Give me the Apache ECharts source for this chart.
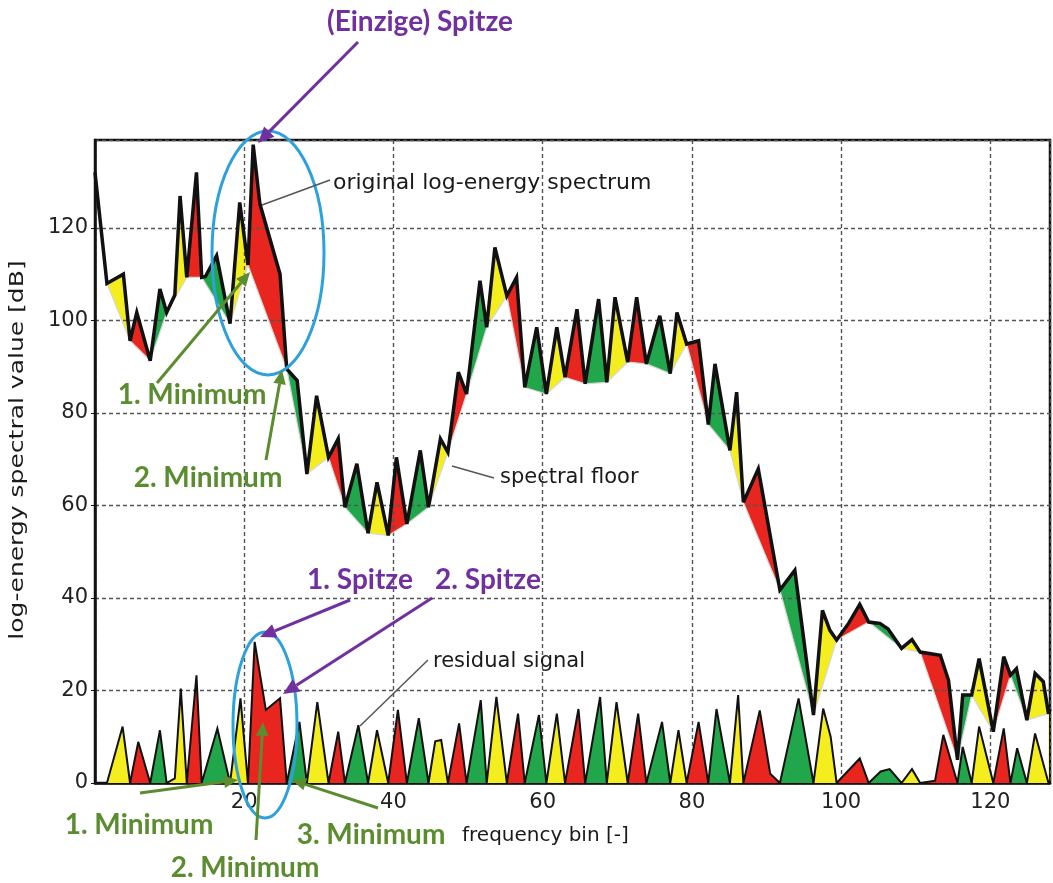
<!DOCTYPE html>
<html>
<head>
<meta charset="utf-8">
<script src="https://cdn.jsdelivr.net/npm/echarts@6/dist/echarts.min.js"></script>
<style>
  html, body { margin: 0; padding: 0; background: #fff; }
  #chart { width: 1053px; height: 883px; }
</style>
</head>
<body>
<div id="chart"></div>
<script>
// original log-energy spectrum: [frequency bin, dB] vertices
const spectrum = [
  [0, 132], [1.6, 108], [3.8, 110], [4.7, 95.6], [5.6, 101.7], [7.4, 91.3], [8.7, 106.8],
  [9.6, 101.7], [10.7, 105.5], [11.4, 126.9], [12.3, 109.3], [13.6, 132], [14.3, 109.3],
  [14.8, 109.5], [16.3, 114], [18.1, 99.3], [19.4, 125.5], [20.5, 112], [21.2, 138],
  [22.1, 125.2], [24.8, 110], [25.7, 89.5], [27.1, 87], [28.4, 66.8], [29.7, 83.7],
  [31.3, 70.4], [32.6, 74.4], [33.5, 59.6], [35.1, 69], [36.6, 54], [37.8, 65],
  [39.3, 53.5], [40.4, 70.4], [41.8, 56], [43.6, 71.9], [44.7, 59.6], [46.3, 74.4],
  [47.3, 71.5], [48.7, 88.8], [49.8, 84.1], [51.6, 108.6], [52.5, 98.5], [53.6, 115.8],
  [55.2, 105.3], [56.5, 109.3], [57.6, 85.5], [59.2, 98.5], [60.5, 84.1], [61.9, 98.5],
  [63, 87.7], [64.6, 102.4], [65.7, 86.3], [67.5, 104.6], [68.6, 86.6], [69.7, 105],
  [71.4, 91], [72.6, 105], [73.9, 90.6], [75.7, 101], [77.1, 88.5], [78, 101.7],
  [79.3, 94.9], [80.9, 95.6], [82.2, 77.5], [83.1, 90.6], [85.1, 71.9], [86, 84.5],
  [86.9, 60.7], [88.9, 67.9], [91.8, 41.7], [93.8, 46], [96.3, 14.7], [97.5, 37.3],
  [98.5, 33], [99.4, 30.9], [101, 34.5], [102.5, 38.6], [103.7, 34.8], [105.2, 34.5],
  [106.3, 33.3], [108.1, 29.1], [109.5, 31], [110.6, 28.3], [113.3, 27.6], [114.4, 22.2],
  [115.6, 5], [116.3, 19], [117.5, 19], [118.5, 26.9], [120.4, 11.1], [121.8, 27.3],
  [122.7, 23.3], [123.5, 24.7], [124.9, 13.6], [126, 23.7], [127.1, 21.9], [127.8, 15],
  [128, 16]
]

// spectral floor: the minima it is drawn through
const spectralFloor = [
  [1.6, 108], [4.7, 95.6], [7.4, 91.3], [9.6, 101.7], [12.3, 109.3], [14.3, 109.3],
  [18.1, 99.3], [20.5, 112], [25.7, 89.5], [28.4, 66.8], [31.3, 70.4], [33.5, 59.6],
  [36.6, 54], [39.3, 53.5], [41.8, 56], [44.7, 59.6], [47.3, 71.5], [49.8, 84.1],
  [52.5, 98.5], [55.2, 105.3], [57.6, 85.5], [60.5, 84.1], [63, 87.7], [65.7, 86.3],
  [68.6, 86.6], [71.4, 91], [73.9, 90.6], [77.1, 88.5], [79.3, 94.9], [82.2, 77.5],
  [85.1, 71.9], [86.9, 60.7], [91.8, 41.7], [96.3, 14.7], [99.4, 30.9], [103.7, 34.8],
  [108.1, 29.1], [110.6, 28.3], [115.6, 5], [117.5, 19], [120.4, 11.1], [122.7, 23.3],
  [124.9, 13.6], [127.8, 15]
]

// residual signal at the bottom of the plot
const residual = [
  [0, 0], [1.6, 0], [3.7, 12.2], [4.7, 0], [5.8, 8.9], [7.4, 0], [8.7, 11.4], [9.6, 0],
  [10.7, 1], [11.5, 20.4], [12.3, 0], [13.6, 23.3], [14.3, 0], [16.4, 11.8], [18.1, 0],
  [19.5, 18.3], [20.5, 0], [21.4, 30.5], [22.9, 15.8], [24.8, 18.3], [25.7, 0],
  [27.4, 13.2], [28.4, 0], [29.8, 17.5], [31.3, 0], [32.6, 11.1], [33.5, 0], [35.3, 12.5],
  [36.6, 0], [37.8, 11.4], [39.3, 0], [40.6, 15.8], [41.8, 0], [43.4, 14], [44.7, 0],
  [45.6, 9], [46.4, 9.3], [47.3, 0], [48.8, 12.9], [49.8, 0], [51.7, 17.9], [52.5, 0],
  [53.8, 18.6], [55.2, 0], [56.7, 15], [57.6, 0], [59.5, 14.7], [60.5, 0], [61.9, 15],
  [63, 0], [64.8, 16], [65.7, 0], [67.7, 18.6], [68.6, 0], [69.9, 17.5], [71.4, 0],
  [72.8, 15], [73.9, 0], [76, 13.2], [77.1, 0], [78.2, 11.4], [79.3, 0], [80.9, 13.2],
  [82.2, 0], [83.3, 16], [85.1, 0], [86.2, 19], [86.9, 0], [89.1, 15.7], [90.5, 2],
  [91.8, 0], [94.3, 18.3], [96.3, 0], [97.6, 16.1], [98.6, 10], [99.4, 0], [102.5, 5.3],
  [103.7, 0], [105.3, 2.5], [106.5, 3], [108.1, 0], [109.5, 3], [110.6, 0], [112.6, 0.5],
  [113.7, 10.4], [115.6, 0], [116.3, 7.8], [117.5, 0], [118.5, 12.2], [120.4, 0],
  [121.8, 11.8], [122.7, 0], [123.6, 7.5], [124.9, 0], [126, 10.7], [127.8, 0], [128, 0.5]
]

// fill colours, repeated from one floor minimum to the next
const segmentColors = ['#f4ee1e', '#e8261f', '#22a64b']

const pieces = spectralFloor.slice(0, -1).map((p, i) => {
  return { gte: p[0], lt: spectralFloor[i + 1][0], color: segmentColors[i % 3] }
})

const chart = echarts.init(document.getElementById('chart'))

const green = '#5b8c2f'
const purple = '#7030a0'
const blue = '#2ea0dc'

function arrow(x1, y1, x2, y2, color, width, head) {
  const a = Math.atan2(y2 - y1, x2 - x1)
  const bx = x2 - head * Math.cos(a)
  const by = y2 - head * Math.sin(a)
  const hw = head * 0.45
  return [
    { type: 'line', z: 10, shape: { x1: x1, y1: y1, x2: bx, y2: by },
      style: { stroke: color, lineWidth: width } },
    { type: 'polygon', z: 10, shape: { points: [[x2, y2],
        [bx - hw * Math.sin(a), by + hw * Math.cos(a)],
        [bx + hw * Math.sin(a), by - hw * Math.cos(a)]] },
      style: { fill: color } }
  ]
}

function leader(x1, y1, x2, y2) {
  return { type: 'line', z: 10, shape: { x1: x1, y1: y1, x2: x2, y2: y2 },
    style: { stroke: '#555', lineWidth: 1.5 } }
}

function label(text, x, y, color) {
  return { type: 'text', z: 11, x: x, y: y,
    style: { text: text, fill: color, font: 'bold 28px Lato',
      textAlign: 'center', textVerticalAlign: 'middle' } }
}

function note(text, x, y, size) {
  return { type: 'text', z: 11, x: x, y: y,
    style: { text: text, fill: '#1a1a1a', font: (size || 21) + 'px "DejaVu Sans"',
      textAlign: 'left', textVerticalAlign: 'middle' } }
}

const graphics = [].concat(
  [
    { type: 'ellipse', z: 9, shape: { cx: 268, cy: 253, rx: 56, ry: 122 },
      style: { fill: 'none', stroke: blue, lineWidth: 3 } },
    { type: 'ellipse', z: 9, shape: { cx: 265, cy: 725, rx: 32, ry: 93 },
      style: { fill: 'none', stroke: blue, lineWidth: 3 } },
    label('(Einzige) Spitze', 420, 22, purple),
    label('1. Minimum', 192, 395, green),
    label('2. Minimum', 208, 478, green),
    label('1. Spitze', 360, 580, purple),
    label('2. Spitze', 488, 580, purple),
    label('1. Minimum', 139, 825, green),
    label('2. Minimum', 245, 868, green),
    label('3. Minimum', 371, 835, green),
    note('original log-energy spectrum', 333, 183, 22),
    note('spectral floor', 500, 478),
    note('residual signal', 433, 662),
    note('frequency bin [-]', 462, 836, 20),
    leader(330, 180, 262, 205),
    leader(494, 478, 452, 466),
    leader(428, 660, 360, 726),
    { type: 'text', z: 11, x: 18, y: 450, rotation: Math.PI / 2, scaleX: 1.25,
      style: { text: 'log-energy spectral value [dB]', fill: '#1a1a1a',
        font: '20px "DejaVu Sans"', textAlign: 'center', textVerticalAlign: 'middle' } }
  ],
  arrow(358, 42, 258, 143, purple, 3, 16),
  arrow(350, 600, 260, 637, purple, 3, 16),
  arrow(432, 598, 283, 694, purple, 3, 16),
  arrow(157, 383, 250, 272, green, 3, 14),
  arrow(266, 460, 282, 370, green, 3, 14),
  arrow(140, 793, 238, 780, green, 3, 14),
  arrow(256, 840, 263, 722, green, 3, 14),
  arrow(378, 808, 292, 780, green, 3, 14)
)

const axisFont = { fontFamily: 'DejaVu Sans', fontSize: 21, color: '#222' }
const split = { show: true, lineStyle: { color: '#555', type: [4, 3], width: 1.4 } }

const option = {
  animation: false,
  backgroundColor: '#fff',
  grid: { left: 95, right: 3, top: 140, bottom: 100, show: true,
    borderColor: '#111', borderWidth: 2.5, backgroundColor: 'transparent' },
  xAxis: {
    type: 'value', min: 0, max: 128, interval: 20, z: 3,
    axisLine: { lineStyle: { color: '#111', width: 2.5 } },
    axisTick: { inside: true, length: 5, lineStyle: { color: '#111' } },
    axisLabel: Object.assign({ margin: 9, showMaxLabel: false,
      formatter: v => (v === 0 ? '' : v) }, axisFont),
    splitLine: split
  },
  yAxis: {
    type: 'value', min: 0, max: 139, interval: 20, z: 3,
    axisLine: { show: true, lineStyle: { color: '#111', width: 2.5 } },
    axisTick: { show: true, inside: false, length: 4, lineStyle: { color: '#111' } },
    axisLabel: Object.assign({ margin: 7, showMaxLabel: false }, axisFont),
    splitLine: split
  },
  visualMap: {
    type: 'piecewise', show: false, dimension: 0, seriesIndex: [0, 3],
    pieces: pieces, outOfRange: { color: 'rgba(255,255,255,0)' }
  },
  series: [
    { // colour between floor and spectrum (masked below the floor)
      type: 'line', data: spectrum, z: 1, showSymbol: false, silent: true,
      lineStyle: { width: 0 }, areaStyle: { opacity: 1 }
    },
    {
      type: 'line', data: spectralFloor, z: 2, showSymbol: false, silent: true,
      lineStyle: { width: 0 }, areaStyle: { color: '#fff', opacity: 1 }
    },
    {
      type: 'line', data: spectralFloor, z: 4, showSymbol: false, silent: true,
      lineStyle: { color: '#d6d6d6', width: 1.2 }
    },
    {
      type: 'line', data: residual, z: 5, showSymbol: false, silent: true,
      lineStyle: { width: 0 }, areaStyle: { opacity: 1 }
    },
    {
      type: 'line', data: residual, z: 6, showSymbol: false, silent: true,
      lineStyle: { color: '#111', width: 2, join: 'miter', miterLimit: 4 }
    },
    {
      type: 'line', data: spectrum, z: 7, showSymbol: false, silent: true,
      lineStyle: { color: '#111', width: 3.5, join: 'miter', miterLimit: 4 }
    }
  ],
  graphic: graphics
}

chart.setOption(option)
</script>
</body>
</html>
